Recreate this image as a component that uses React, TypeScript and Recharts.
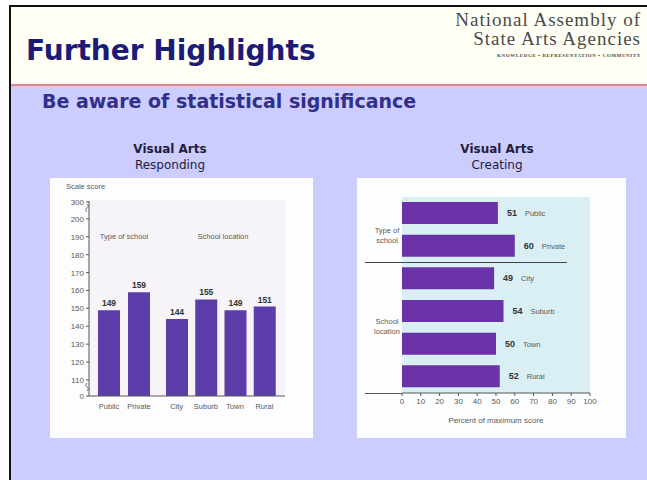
import React from 'react';
import {
  BarChart,
  Bar,
  XAxis,
  YAxis,
  CartesianGrid,
  LabelList,
} from 'recharts';

// Visual Arts – Responding (scale score)
const schoolTypes = ['Public', 'Private'];
const schoolLocations = ['City', 'Suburb', 'Town', 'Rural'];
const respondingTypeScores = [149, 159];
const respondingLocationScores = [144, 155, 149, 151];
// broken axis: 0 sits just below 110 and 300 just above 200
const respondingTickValues = [101, 110, 120, 130, 140, 150, 160, 170, 180, 190, 200, 209.5];
const respondingTickLabels = ['0', '110', '120', '130', '140', '150', '160', '170', '180', '190', '200', '300'];

// Visual Arts – Creating (percent of maximum score)
const creatingCategories = ['Public', 'Private', 'City', 'Suburb', 'Town', 'Rural'];
const creatingPercents = [51, 60, 49, 54, 50, 52];
const creatingTicks = [0, 10, 20, 30, 40, 50, 60, 70, 80, 90, 100];

const typeData = schoolTypes.map((name, i) => ({ name, score: respondingTypeScores[i] }));
const locationData = schoolLocations.map((name, i) => ({ name, score: respondingLocationScores[i] }));
const creatingData = creatingCategories.map((name, i) => ({ name, pct: creatingPercents[i] }));

const NARROW = '"Liberation Sans Narrow", "Liberation Sans", Arial, sans-serif';
const VERDANA = 'Verdana, "DejaVu Sans", sans-serif';
const SMALL_GREY = '#5a5a5a';
const RESP_DOMAIN: [number, number] = [101, 210];

function RespondingTick(props: any) {
  const { x, y, payload } = props;
  const idx = respondingTickValues.indexOf(payload.value);
  const label = respondingTickLabels[idx];
  const ax = x + 5;
  return (
    <g>
      <text x={x} y={y} dy={3} textAnchor="end" fontSize={8} fill={SMALL_GREY} fontFamily={NARROW}>
        {label}
      </text>
      {idx === 0 && (
        <path d={`M${ax - 2},${y - 5} q3,-2 0,-4 q-3,-2 0,-4`} stroke="#555" fill="none" strokeWidth={0.8} />
      )}
      {idx === respondingTickValues.length - 1 && (
        <path d={`M${ax - 2},${y + 2} q3,2 0,4 q-3,2 0,4`} stroke="#555" fill="none" strokeWidth={0.8} />
      )}
    </g>
  );
}

function CreatingLabel(props: any) {
  const { x, y, width, height, value, index } = props;
  const cy = y + height / 2 + 3;
  return (
    <g fontFamily={NARROW}>
      <text x={x + width + 9} y={cy} fontSize={9} fontWeight="bold" fill="#333">
        {value}
      </text>
      <text x={x + width + 27} y={cy} fontSize={7.5} fill={SMALL_GREY}>
        {creatingCategories[index]}
      </text>
    </g>
  );
}

const abs = (left: number, top: number, extra: React.CSSProperties = {}): React.CSSProperties => ({
  position: 'absolute',
  left,
  top,
  ...extra,
});

export default function App() {
  return (
    <div style={{ position: 'absolute', left: 0, top: 0, width: 647, height: 480, background: '#fff', overflow: 'hidden' }}>
      {/* slide */}
      <div
        style={abs(9, 5, {
          width: 640,
          height: 477,
          background: '#ccccff',
          borderLeft: '2px solid #111',
          borderTop: '2px solid #111',
        })}
      />
      {/* header */}
      <div style={abs(11, 7, { width: 636, height: 77, background: '#fffff6' })} />
      <div style={abs(11, 84, { width: 636, height: 2, background: '#d88a9c' })} />
      <div style={abs(11, 86, { width: 636, height: 2, background: '#e9c6de' })} />
      <div
        style={abs(26, 34, {
          fontFamily: VERDANA,
          fontWeight: 'bold',
          fontSize: 28,
          color: '#1c1c78',
          whiteSpace: 'nowrap',
        })}
      >
        Further Highlights
      </div>
      <div
        style={abs(400, 10, {
          width: 241,
          textAlign: 'right',
          fontFamily: '"Liberation Serif", "DejaVu Serif", serif',
          fontSize: 19,
          letterSpacing: 1,
          lineHeight: '19px',
          color: '#4a4a4a',
          whiteSpace: 'nowrap',
        })}
      >
        National Assembly of
        <br />
        State Arts Agencies
        <div style={{ fontSize: 5, lineHeight: '8px', fontWeight: 'bold', letterSpacing: 0.6, marginTop: 4 }}>
          KNOWLEDGE ▪ REPRESENTATION ▪ COMMUNITY
        </div>
      </div>

      {/* subtitle */}
      <div
        style={abs(42, 90, {
          fontFamily: VERDANA,
          fontWeight: 'bold',
          fontSize: 19,
          color: '#30308a',
          whiteSpace: 'nowrap',
        })}
      >
        Be aware of statistical significance
      </div>

      {/* chart titles */}
      {[
        { cx: 170, sub: 'Responding' },
        { cx: 497, sub: 'Creating' },
      ].map((t) => (
        <div
          key={t.sub}
          style={abs(t.cx - 80, 141, {
            width: 160,
            textAlign: 'center',
            fontFamily: VERDANA,
            fontSize: 12,
            lineHeight: '16px',
            color: '#1e1e3c',
          })}
        >
          <div style={{ fontWeight: 'bold' }}>Visual Arts</div>
          <div>{t.sub}</div>
        </div>
      ))}

      {/* left panel: Responding */}
      <div style={abs(50, 178, { width: 263, height: 260, background: '#fdfcff' })} />
      <div style={abs(89, 200, { width: 196, height: 196, background: '#f6f3f9' })} />
      <div style={abs(66, 182, { fontFamily: NARROW, fontSize: 7.5, color: SMALL_GREY })}>Scale score</div>
      <div style={abs(94, 232, { width: 60, textAlign: 'center', fontFamily: NARROW, fontSize: 7.5, color: SMALL_GREY })}>
        Type of school
      </div>
      <div style={abs(183, 232, { width: 80, textAlign: 'center', fontFamily: NARROW, fontSize: 7.5, color: SMALL_GREY })}>
        School location
      </div>
      <div style={abs(50, 190)}>
        <BarChart width={107} height={226} data={typeData} margin={{ top: 11, right: 0, left: 0, bottom: 0 }} barSize={22}>
          <XAxis
            dataKey="name"
            interval={0}
            height={20}
            padding={{ left: 5, right: 3 }}
            tickLine={false}
            axisLine={{ stroke: '#555' }}
            tick={{ fontSize: 7.5, fill: SMALL_GREY, fontFamily: NARROW }}
          />
          <YAxis
            width={39}
            domain={RESP_DOMAIN}
            ticks={respondingTickValues}
            allowDataOverflow
            interval={0}
            tickSize={3}
            tickLine={{ stroke: '#555' }}
            axisLine={{ stroke: '#555' }}
            tick={<RespondingTick />}
          />
          <Bar dataKey="score" fill="#5b3ca8" isAnimationActive={false}>
            <LabelList dataKey="score" position="top" offset={4} fontSize={8.5} fontWeight="bold" fill="#333" fontFamily={NARROW} />
          </Bar>
        </BarChart>
      </div>
      <div style={abs(157, 190)}>
        <BarChart width={132} height={226} data={locationData} margin={{ top: 11, right: 4, left: 0, bottom: 0 }} barSize={22}>
          <XAxis
            dataKey="name"
            interval={0}
            height={20}
            padding={{ left: 5, right: 6 }}
            tickLine={false}
            axisLine={{ stroke: '#555' }}
            tick={{ fontSize: 7.5, fill: SMALL_GREY, fontFamily: NARROW }}
          />
          <YAxis width={0} domain={RESP_DOMAIN} allowDataOverflow ticks={[]} tick={false} tickLine={false} axisLine={{ stroke: '#555' }} />
          <Bar dataKey="score" fill="#5b3ca8" isAnimationActive={false}>
            <LabelList dataKey="score" position="top" offset={4} fontSize={8.5} fontWeight="bold" fill="#333" fontFamily={NARROW} />
          </Bar>
        </BarChart>
      </div>

      {/* right panel: Creating */}
      <div style={abs(357, 178, { width: 269, height: 260, background: '#fdfeff' })} />
      <div style={abs(357, 226, { width: 60, fontFamily: NARROW, fontSize: 7.5, lineHeight: '10px', color: SMALL_GREY, textAlign: 'center' })}>
        Type of
        <br />
        school
      </div>
      <div style={abs(357, 317, { width: 60, fontFamily: NARROW, fontSize: 7.5, lineHeight: '10px', color: SMALL_GREY, textAlign: 'center' })}>
        School
        <br />
        location
      </div>
      <div style={abs(357, 185)}>
        <BarChart
          layout="vertical"
          width={243}
          height={248}
          data={creatingData}
          margin={{ top: 12, right: 10, left: 0, bottom: 0 }}
          barSize={22}
        >
          <CartesianGrid horizontal={false} vertical={false} fill="#d9eff3" />
          <YAxis type="category" dataKey="name" width={45} tick={false} tickLine={false} axisLine={false} />
          <XAxis
            type="number"
            domain={[0, 100]}
            ticks={creatingTicks}
            interval={0}
            height={40}
            tickSize={3}
            tickLine={{ stroke: '#555' }}
            axisLine={{ stroke: '#555' }}
            tick={{ fontSize: 8, fill: SMALL_GREY, fontFamily: NARROW }}
            label={{ value: 'Percent of maximum score', position: 'insideBottom', offset: 10, fontSize: 8, fill: SMALL_GREY, fontFamily: NARROW }}
          />
          <Bar dataKey="pct" fill="#6a34a8" isAnimationActive={false}>
            <LabelList dataKey="pct" content={<CreatingLabel />} />
          </Bar>
        </BarChart>
      </div>
      {/* group divider and axis extension */}
      <div style={abs(365, 262, { width: 202, height: 1, background: '#444' })} />
      <div style={abs(365, 393, { width: 37, height: 1, background: '#555' })} />
    </div>
  );
}
